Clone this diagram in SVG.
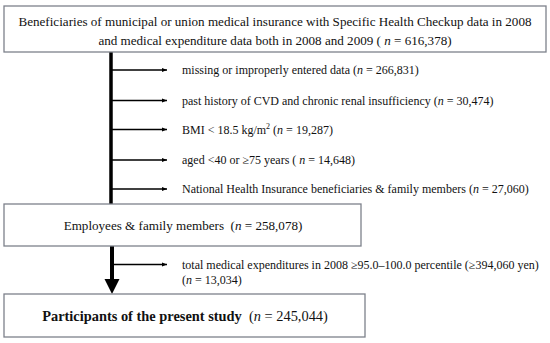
<svg xmlns="http://www.w3.org/2000/svg" width="550" height="343" viewBox="0 0 550 343">
<style>
.box{fill:#fff;stroke:#7d818b;stroke-width:1.3}
.t{font-family:"Liberation Serif","Times New Roman",serif;fill:#111}
.n{font-size:13.1px}
.s{font-size:12px}
.b{font-size:14.4px}
.bw{font-weight:bold}
.i{font-style:italic;font-weight:normal}
.br{stroke:#000;stroke-width:1.5;fill:none}
</style>
<defs>
<marker id="ah" viewBox="0 0 10 10" refX="10" refY="5" markerWidth="5" markerHeight="5" markerUnits="userSpaceOnUse" orient="auto">
<path d="M0,1 L10,5 L0,9 Z" fill="#000"/>
</marker>
</defs>
<rect width="550" height="343" fill="#fff"/>
<g id="connectors">
<line x1="111" y1="52" x2="111" y2="204" stroke="#000" stroke-width="3.5"/>
<line class="br" x1="111" y1="70" x2="167" y2="70" marker-end="url(#ah)"/>
<line class="br" x1="111" y1="100.5" x2="167" y2="100.5" marker-end="url(#ah)"/>
<line class="br" x1="111" y1="129.5" x2="167" y2="129.5" marker-end="url(#ah)"/>
<line class="br" x1="111" y1="160" x2="167" y2="160" marker-end="url(#ah)"/>
<line class="br" x1="111" y1="189" x2="167" y2="189" marker-end="url(#ah)"/>
<line x1="112" y1="246" x2="112" y2="281" stroke="#000" stroke-width="4"/>
<polygon points="104.5,279 119.5,279 112,294" fill="#000"/>
<line class="br" x1="112" y1="264.5" x2="167" y2="264.5" marker-end="url(#ah)"/>
</g>
<g id="node-top">
<rect class="box" x="4" y="6" width="542" height="46"/>
<text class="t n" x="275" y="26" text-anchor="middle">Beneficiaries of municipal or union medical insurance with Specific Health Checkup data in 2008</text>
<text class="t n" x="275" y="45" text-anchor="middle">and medical expenditure data both in 2008 and 2009 ( <tspan class="i">n</tspan> = 616,378)</text>
</g>
<g id="excl-1"><text class="t s" x="182" y="74">missing or improperly entered data (<tspan class="i">n</tspan> = 266,831)</text></g>
<g id="excl-2"><text class="t s" x="182" y="104.5">past history of CVD and chronic renal insufficiency (<tspan class="i">n</tspan> = 30,474)</text></g>
<g id="excl-3"><text class="t s" x="182" y="133.5">BMI &lt; 18.5 kg/m<tspan font-size="8" dy="-4.5">2</tspan><tspan dy="4.5"> (</tspan><tspan class="i">n</tspan> = 19,287)</text></g>
<g id="excl-4"><text class="t s" x="182" y="164">aged &lt;40 or ≥75 years ( <tspan class="i">n</tspan> = 14,648)</text></g>
<g id="excl-5"><text class="t s" x="182" y="193">National Health Insurance beneficiaries &amp; family members (<tspan class="i">n</tspan> = 27,060)</text></g>
<g id="node-employees">
<rect class="box" x="4" y="204" width="357" height="42"/>
<text class="t n" x="183" y="230" text-anchor="middle" xml:space="preserve">Employees &amp; family members  (<tspan class="i">n</tspan> = 258,078)</text>
</g>
<g id="excl-6">
<text class="t s" x="182" y="268.5">total medical expenditures in 2008 ≥95.0–100.0 percentile (≥394,060 yen)</text>
<text class="t s" x="182" y="284">(<tspan class="i">n</tspan> = 13,034)</text>
</g>
<g id="node-participants">
<rect class="box" x="4" y="294" width="361" height="43"/>
<text class="t b" x="185" y="321" text-anchor="middle" xml:space="preserve"><tspan class="bw">Participants of the present study</tspan>  (<tspan class="i">n</tspan> = 245,044)</text>
</g>
</svg>
